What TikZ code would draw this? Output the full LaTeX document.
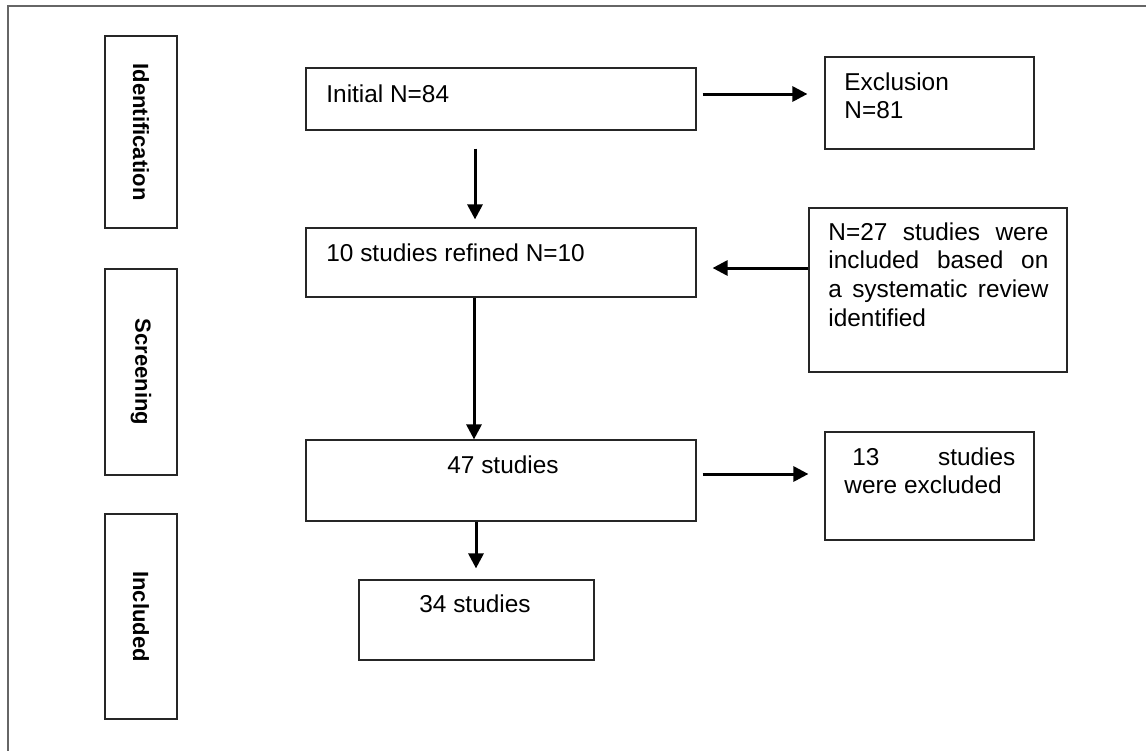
\documentclass[tikz,border=0pt]{standalone}
\usepackage{fontspec}
\setmainfont{Liberation Sans}
\usetikzlibrary{arrows.meta,fit}
\begin{document}
\begin{tikzpicture}[x=0.5pt,y=-0.5pt,
  box/.style={draw=black!85,line width=0.6pt,inner sep=0pt,rectangle},
  txt/.style={inner sep=0pt,anchor=base west,font=\fontsize{12.2}{14}\selectfont},
  side/.style={inner sep=0pt,rotate=-90,font=\fontsize{11}{13}\selectfont\bfseries},
  arr/.style={line width=1.5pt,-{Triangle[length=7.5pt,width=7.5pt]}}]
\useasboundingbox (0,0) rectangle (1146,750);
\clip (0,0) rectangle (1146,750);
\draw[black!60,line width=0.8pt] (8,6) rectangle (1170,780);

% stage boxes
\node[box,fit={(105,36)(177,228)}] (idb) {};
\node[box,fit={(105,269)(177,475)}] (scb) {};
\node[box,fit={(105,514)(177,719)}] (inb) {};
\node[side] (idl) at (idb.center) {Identification};
\node[side] (scl) at (scb.center) {Screening};
\node[side] (inl) at (inb.center) {Included};

% flow boxes
\node[box,fit={(306,68)(696,130)}] (init) {};
\node[box,fit={(825,57)(1034,149)}] (excl) {};
\node[box,fit={(306,228)(696,297)}] (ref) {};
\node[box,fit={(809,208)(1067,372)}] (n27) {};
\node[box,fit={(306,440)(696,521)}] (s47) {};
\node[box,fit={(825,432)(1034,540)}] (ex13) {};
\node[box,fit={(359,580)(594,660)}] (s34) {};

% texts
\node[txt] (t1) at (326,102) {Initial N=84};
\node[txt] (t2a) at (844,90) {Exclusion};
\node[txt] (t2b) at (844,118) {N=81};
\node[txt] (t3) at (326,261) {10 studies refined N=10};
\node[txt] (t4a) at (828,240) {\makebox[110pt][s]{N=27 studies were}};
\node[txt] (t4b) at (828,268.7) {\makebox[110pt][s]{included based on}};
\node[txt] (t4c) at (828,297.3) {\makebox[110pt][s]{a systematic review}};
\node[txt] (t4d) at (828,326) {identified};
\node[txt] (t5) at (447,473) {47 studies};
\node[txt] (t6a) at (852,465) {\makebox[81.5pt][s]{13 studies}};
\node[txt] (t6b) at (844,493) {were excluded};
\node[txt] (t7) at (419,612) {34 studies};

% connector guides
\coordinate (c1) at (0,94);
\coordinate (c2) at (475,0);
\coordinate (c3) at (0,268);
\coordinate (c4) at (474,0);
\coordinate (c5) at (0,474);
\coordinate (c6) at (476,0);

\draw[arr,shorten <=3pt,shorten >=8.5pt] (init.east |- c1) -- (excl.west |- c1);
\draw[arr,shorten <=9pt,shorten >=4pt] (init.south -| c2) -- (ref.north -| c2);
\draw[arr,shorten >=8pt] (n27.west |- c3) -- (ref.east |- c3);
\draw[arr] (ref.south -| c4) -- (s47.north -| c4);
\draw[arr,shorten <=3pt,shorten >=8pt] (s47.east |- c5) -- (ex13.west |- c5);
\draw[arr,shorten >=5.5pt] (s47.south -| c6) -- (s34.north -| c6);
\end{tikzpicture}
\end{document}
